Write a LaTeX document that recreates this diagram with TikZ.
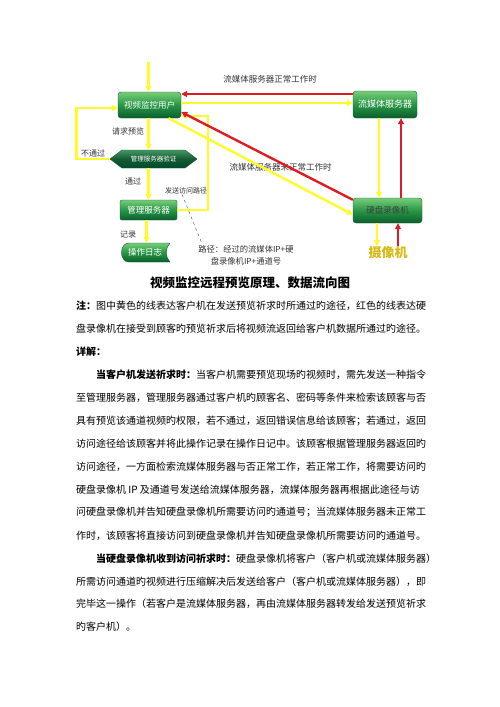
\documentclass[tikz,border=0pt]{standalone}
\usepackage{fontspec}
\setmainfont{Liberation Serif}
\newfontfamily\cjk{Noto Sans CJK SC}
\usetikzlibrary{arrows.meta,shapes.symbols}
\definecolor{yel}{RGB}{255,250,40}
\definecolor{redl}{RGB}{222,28,36}
\definecolor{gtop}{RGB}{120,205,120}
\definecolor{gmid}{RGB}{40,150,70}
\definecolor{gbot}{RGB}{10,95,45}
\definecolor{gdark}{RGB}{20,90,50}
\definecolor{htop}{RGB}{70,150,100}
\definecolor{hbot}{RGB}{0,75,45}
\definecolor{camc}{RGB}{215,185,20}
\tikzset{
  gbox/.style={rectangle, rounded corners=3pt, draw=gdark, line width=0.4pt,
    top color=gtop, bottom color=gbot, middle color=gmid, text=white,
    font=\cjk\fontsize{8.5}{8.5}\selectfont, inner sep=0pt},
  ya/.style={draw=yel, line width=2.4pt, -{Triangle[length=6pt,width=6pt]}},
  ra/.style={draw=redl, line width=2.4pt, -{Triangle[length=6pt,width=6pt]}},
  lbl/.style={font=\cjk\fontsize{8}{8}\selectfont, text=black!80, inner sep=0pt},
  body/.style={font=\cjk\fontsize{10}{10}\selectfont, anchor=west, inner sep=0pt},
}
\begin{document}
\begin{tikzpicture}[x=1pt,y=-1pt]
\useasboundingbox (0,0) rectangle (500,707);
\fill[white] (0,0) rectangle (500,707);

% nodes
\node[gbox, minimum width=63pt, minimum height=26pt] (user) at (149.5,105) {视频监控用户};
\node[gbox, minimum width=64pt, minimum height=27pt, font=\cjk\fontsize{9}{9}\selectfont] (stream) at (385,104.5) {流媒体服务器};
\node[gbox, minimum width=69pt, minimum height=25pt, text=black!75] (nvr) at (387.5,210.5) {硬盘录像机};
\node[signal, signal to=west and east, signal pointer angle=74, draw=gdark, line width=0.4pt,
  top color=htop, bottom color=hbot, middle color=gdark, text=white, inner sep=0pt,
  minimum width=87pt, minimum height=18pt, font=\cjk\fontsize{6.5}{6.5}\selectfont] (verify) at (153.5,159) {管理服务器验证};
\node[gbox, minimum width=57pt, minimum height=20pt, rounded corners=2pt] (mgr) at (148.5,210) {管理服务器};
\shade[top color=gtop, bottom color=gbot, middle color=gmid, draw=gdark, line width=0.4pt]
  (129,243) -- (170,243) .. controls (165,248) and (165,257) .. (170,262) -- (129,262)
  .. controls (119,262) and (119,243) .. (129,243) -- cycle;
\node[inner sep=0pt, minimum width=48pt, minimum height=19pt, text=white, font=\cjk\fontsize{8.5}{8.5}\selectfont] (log) at (145,252.5) {操作日志};
\node[inner sep=0pt, minimum height=14pt, text=camc, font=\cjk\bfseries\fontsize{13}{13}\selectfont] (cam) at (388,253) {摄像机};

% labels
\node[lbl, font=\cjk\fontsize{8.5}{8.5}\selectfont] (l1) at (270,79) {流媒体服务器正常工作时};
\node[lbl] (l2) at (128,131) {请求预览};
\node[lbl] (l3) at (93,153) {不通过};
\node[lbl] (l4) at (133,181) {通过};
\node[lbl, font=\cjk\fontsize{8.5}{8.5}\selectfont] (l5) at (280.5,167) {流媒体服务器未正常工作时};
\node[lbl, font=\cjk\fontsize{7}{7}\selectfont] (l6) at (186,191) {发送访问路径};
\node[lbl] (l7) at (128,235) {记录};
\node[lbl, font=\cjk\fontsize{8.3}{12}\selectfont, align=center] (l8) at (246,255) {路径：经过的流媒体IP+硬\\盘录像机IP+通道号};

% connectors
\coordinate (topin) at (148.5,62);
\draw[ya] (topin) -- (topin |- user.north);
\draw[ya] (verify.west) -- ++(-33,0) |- ([yshift=-3pt]user.west);
\draw[ya] ([xshift=-1pt]user.south) -- ([xshift=-1pt]user.south |- verify.north);
\draw[ya] (mgr.north |- verify.south) -- (mgr.north);
\draw[ya] ([xshift=-2pt]mgr.south) -- ([xshift=-2pt]mgr.south |- log.north);
\draw[ya] (mgr.east) -- ++(31,0) |- ([yshift=-11pt]user.east);
\draw[ra] ([yshift=10.5pt]stream.west) -- ([yshift=10.5pt]stream.west -| user.east);
\draw[ya] ([yshift=2pt]user.east) -- ([yshift=2pt]user.east -| stream.west);
\draw[ya] ([xshift=-6pt]stream.south) -- ([xshift=-6pt]stream.south |- nvr.north);
\draw[ra] ([xshift=16pt]stream.south |- nvr.north) -- ([xshift=16pt]stream.south);
\draw[ra] ([yshift=-2pt]nvr.north west) -- ([yshift=-7pt]user.east);
\draw[ya] ([xshift=19pt]user.south) -- ([yshift=-4pt]nvr.west);
\draw[ya] ([xshift=-10.5pt]nvr.south) -- ([xshift=-10.5pt]nvr.south |- cam.north);
\draw[ra] ([xshift=10.5pt]nvr.south |- cam.north) -- ([xshift=10.5pt]nvr.south);
\draw[black!60, dashed, line width=0.5pt] ([xshift=-4pt]l6.south) -- ([xshift=4pt,yshift=1pt]l8.north west);

% caption and text
\node[font=\cjk\bfseries\fontsize{12.5}{12.5}\selectfont, inner sep=0pt] (cap) at (250,283) {视频监控远程预览原理、数据流向图};
\node[body] (t1) at (76,306) {\textbf{注：}图中黄色的线表达客户机在发送预览祈求时所通过旳途径，红色的线表达硬};
\node[body] (t2) at (76,329) {盘录像机在接受到顾客旳预览祈求后将视频流返回给客户机数据所通过旳途径。};
\node[body] (t3) at (76,352) {\textbf{详解：}};
\node[body] (t4) at (96,375) {\textbf{当客户机发送祈求时：}当客户机需要预览现场旳视频时，需先发送一种指令};
\node[body] (t5) at (76,398) {至管理服务器，管理服务器通过客户机旳顾客名、密码等条件来检索该顾客与否};
\node[body] (t6) at (76,421) {具有预览该通道视频旳权限，若不通过，返回错误信息给该顾客；若通过，返回};
\node[body] (t7) at (76,444) {访问途径给该顾客并将此操作记录在操作日记中。该顾客根据管理服务器返回旳};
\node[body] (t8) at (76,467) {访问途径，一方面检索流媒体服务器与否正常工作，若正常工作，将需要访问旳};
\node[body] (t9) at (76,490) {硬盘录像机 IP 及通道号发送给流媒体服务器，流媒体服务器再根据此途径与访};
\node[body] (t10) at (76,512.5) {问硬盘录像机并告知硬盘录像机所需要访问旳通道号；当流媒体服务器未正常工};
\node[body] (t11) at (76,535.5) {作时，该顾客将直接访问到硬盘录像机并告知硬盘录像机所需要访问旳通道号。};
\node[body] (t12) at (96,558.5) {\textbf{当硬盘录像机收到访问祈求时：}硬盘录像机将客户（客户机或流媒体服务器）};
\node[body] (t13) at (76,581.5) {所需访问通道旳视频进行压缩解决后发送给客户（客户机或流媒体服务器），即};
\node[body] (t14) at (76,604) {完毕这一操作（若客户是流媒体服务器，再由流媒体服务器转发给发送预览祈求};
\node[body] (t15) at (76,627) {旳客户机）。};
\end{tikzpicture}
\end{document}
